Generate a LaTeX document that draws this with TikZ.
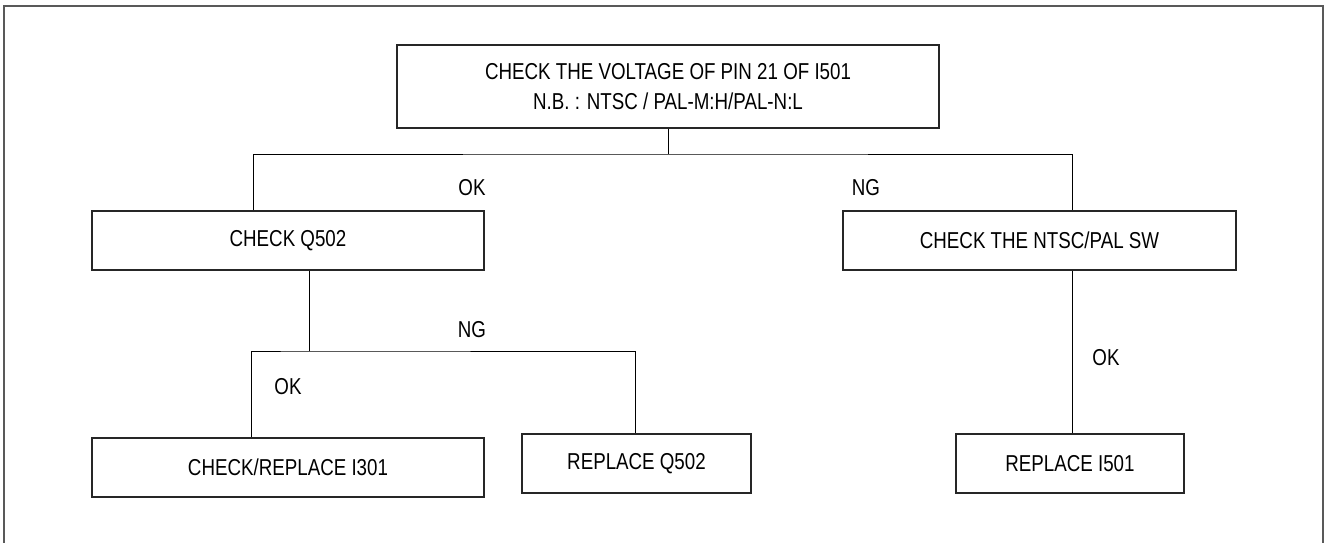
\documentclass[tikz,border=0pt]{standalone}
\usepackage{fontspec}
\setmainfont[FakeStretch=0.815]{Liberation Sans}
\begin{document}
\begin{tikzpicture}[x=1pt,y=-1pt,
  box/.style={draw=black!85,line width=1.4pt,minimum height=59pt,inner sep=0pt,font=\fontsize{23}{30.5}\selectfont},
  lbl/.style={font=\fontsize{23}{30.5}\selectfont,inner sep=0pt},
  conn/.style={draw=black,line width=1pt}]
\useasboundingbox (0,0) rectangle (1326,543);
\clip (0,0) rectangle (1326,543);
\draw[black!65,line width=1.3pt] (4,560) -- (4,6) -- (1323,6) -- (1323,560);
% boxes
\node[box,minimum width=542pt,minimum height=83pt,align=center] (top) at (668,86.5)
  {CHECK THE VOLTAGE OF PIN 21 OF I501\\N.B. : NTSC / PAL-M:H/PAL-N:L};
\node[box,minimum width=392pt] (q502) at (288,240.5) {CHECK Q502};
\node[box,minimum width=393pt] (sw) at (1039.5,240.5) {CHECK THE NTSC/PAL SW};
\node[box,minimum width=392pt] (i301) at (288,467.5) {CHECK/REPLACE I301};
\node[box,minimum width=229pt] (rq502) at (636.5,463.5) {REPLACE Q502};
\node[box,minimum width=228pt] (ri501) at (1070,463.5) {REPLACE I501};
% junctions
\coordinate (j1) at (668,154);
\coordinate (xL) at (253,0);
\coordinate (xR) at (1072,0);
\coordinate (j2) at (309,351);
\coordinate (xL2) at (251,0);
\coordinate (xR2) at (635,0);
% connectors
\draw[conn] (top.south) -- (j1);
\draw[conn] (q502.north -| xL) |- (j1) -| (sw.north -| xR);
\draw[conn] (sw.south -| xR) -- (ri501.north -| xR);
\draw[conn] (q502.south -| j2) -- (j2);
\draw[conn] (i301.north -| xL2) |- (j2) -| (rq502.north -| xR2);
% labels
\node[lbl] (ok1) at (472,188) {OK};
\node[lbl] (ng1) at (866,188) {NG};
\node[lbl] (ng2) at (472,330) {NG};
\node[lbl] (ok2) at (288,387) {OK};
\node[lbl] (ok3) at (1106,358) {OK};
\end{tikzpicture}
\end{document}
